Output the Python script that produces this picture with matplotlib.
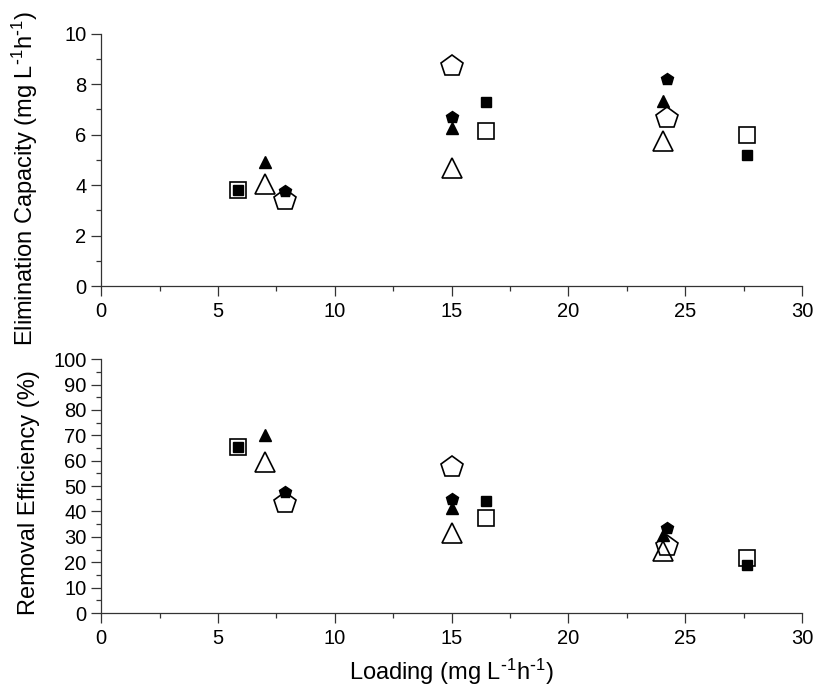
import matplotlib
matplotlib.use("Agg")
import matplotlib.pyplot as plt
from matplotlib.ticker import MultipleLocator

plt.rcParams['font.family'] = ['Liberation Sans', 'DejaVu Sans']
plt.rcParams['mathtext.default'] = 'regular'

# Data
x_square = [5.87, 16.47, 27.64]
x_triangle = [7.03, 15.02, 24.05]
x_pentagon = [7.85, 15.02, 24.2]

ec_square_filled = [3.80, 7.30, 5.19]
ec_square_open = [3.80, 6.15, 6.00]
ec_triangle_filled = [4.93, 6.26, 7.34]
ec_triangle_open = [4.03, 4.67, 5.77]
ec_pentagon_filled = [3.77, 6.69, 8.20]
ec_pentagon_open = [3.41, 8.73, 6.68]

re_square_filled = [65.2, 44.0, 18.9]
re_square_open = [65.2, 37.3, 21.5]
re_triangle_filled = [70.1, 41.5, 30.7]
re_triangle_open = [59.4, 31.4, 24.4]
re_pentagon_filled = [47.8, 44.8, 33.6]
re_pentagon_open = [43.4, 57.6, 26.5]

unit = 'mg L$^{\\text{-}1}$h$^{\\text{-}1}$'

fig = plt.figure(figsize=(8.16, 6.88), dpi=100)
ax1 = fig.add_axes([0.124, 0.584, 0.859, 0.367])
ax2 = fig.add_axes([0.124, 0.109, 0.859, 0.369])

def style(ax):
    for s in ['top', 'right']:
        ax.spines[s].set_visible(False)
    for s in ['left', 'bottom']:
        ax.spines[s].set_linewidth(0.9)
        ax.spines[s].set_color('#333333')
    ax.tick_params(which='major', direction='out', length=7.5, width=0.9, color='#333333',
                   labelsize=14.5)
    ax.tick_params(axis='y', which='major', pad=3)
    ax.tick_params(axis='x', which='major', pad=4)
    ax.tick_params(which='minor', direction='out', length=3.6, width=0.9, color='#333333')
    ax.set_xlim(0, 30)
    ax.xaxis.set_major_locator(MultipleLocator(5))
    ax.xaxis.set_minor_locator(MultipleLocator(2.5))

def plot_series(ax, ys):
    (sf, so, tf, to, pf, po) = ys
    kw_open = dict(linestyle='none', markerfacecolor='none', markeredgecolor='black', markeredgewidth=1.2, zorder=3)
    kw_fill = dict(linestyle='none', color='black', zorder=4)
    ax.plot(x_square, so, marker='s', markersize=12, **kw_open)
    ax.plot(x_triangle, to, marker='^', markersize=15, **kw_open)
    ax.plot(x_pentagon, po, marker='p', markersize=16, **kw_open)
    ax.plot(x_square, sf, marker='s', markersize=6.5, **kw_fill)
    ax.plot(x_triangle, tf, marker='^', markersize=8.5, **kw_fill)
    ax.plot(x_pentagon, pf, marker='p', markersize=9, **kw_fill)

style(ax1)
ax1.set_ylim(0, 10)
ax1.yaxis.set_major_locator(MultipleLocator(2))
ax1.yaxis.set_minor_locator(MultipleLocator(1))
plot_series(ax1, (ec_square_filled, ec_square_open, ec_triangle_filled,
                  ec_triangle_open, ec_pentagon_filled, ec_pentagon_open))
ax1.set_ylabel('Elimination Capacity (' + unit + ')', fontsize=17)
ax1.yaxis.set_label_coords(-0.087, 0.425)

style(ax2)
ax2.set_ylim(0, 100)
ax2.yaxis.set_major_locator(MultipleLocator(10))
ax2.yaxis.set_minor_locator(MultipleLocator(5))
plot_series(ax2, (re_square_filled, re_square_open, re_triangle_filled,
                  re_triangle_open, re_pentagon_filled, re_pentagon_open))
ax2.set_ylabel('Removal Efficiency (%)', fontsize=17)
ax2.yaxis.set_label_coords(-0.087, 0.474)
ax2.set_xlabel('Loading (' + unit + ')', fontsize=17, labelpad=6)

for ax in (ax1, ax2):
    ax.patch.set_alpha(0)
    for a in ax.get_children():
        try:
            a.set_clip_on(False)
        except Exception:
            pass

fig.savefig('out.png', dpi=100)
